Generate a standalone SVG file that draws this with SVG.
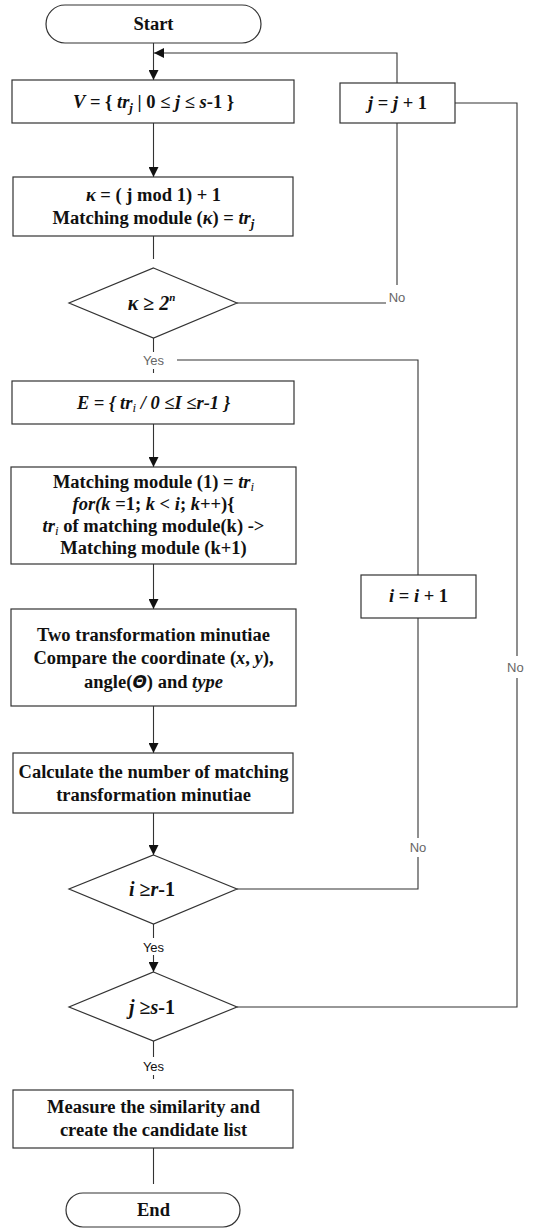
<svg xmlns="http://www.w3.org/2000/svg" width="537" height="1229" viewBox="0 0 537 1229">
<defs>
<marker id="arr" viewBox="0 0 10 10" refX="10" refY="5" markerWidth="10" markerHeight="10" markerUnits="userSpaceOnUse" orient="auto">
<path d="M0,0 L10,5 L0,10 Z" fill="#111"/>
</marker>
<style>
.box{fill:#fff;stroke:#333;stroke-width:1.2}
.ln{fill:none;stroke:#333;stroke-width:1.1}
.t{font-family:"Liberation Serif","Times New Roman",serif;font-size:18.5px;font-weight:bold;fill:#111;text-anchor:middle}
.d{font-size:20px}
.i{font-style:italic}
.lb{font-family:"Liberation Sans",Arial,sans-serif;font-size:13px;fill:#666;text-anchor:middle}
.lbk{font-family:"Liberation Sans",Arial,sans-serif;font-size:13px;fill:#111;text-anchor:middle}
</style>
</defs>

<g id="connectors">
<line class="ln" x1="153.5" y1="43" x2="153.5" y2="80" marker-end="url(#arr)"/>
<polyline class="ln" points="397,83 397,53 154,53" marker-end="url(#arr)"/>
<polyline class="ln" points="455,103 517,103 517,656"/>
<polyline class="ln" points="517,678 517,1007 237,1007"/>
<line class="ln" x1="153.5" y1="123" x2="153.5" y2="177" marker-end="url(#arr)"/>
<line class="ln" x1="153.5" y1="236" x2="153.5" y2="259"/>
<line class="ln" x1="397" y1="123" x2="397" y2="285"/>
<line class="ln" x1="237" y1="303" x2="386" y2="303"/>
<line class="ln" x1="153.5" y1="338" x2="153.5" y2="352"/>
<line class="ln" x1="153.5" y1="369" x2="153.5" y2="373"/>
<polyline class="ln" points="177,360 418,360 418,575"/>
<line class="ln" x1="153.5" y1="424" x2="153.5" y2="467" marker-end="url(#arr)"/>
<line class="ln" x1="153.5" y1="564" x2="153.5" y2="609" marker-end="url(#arr)"/>
<line class="ln" x1="153.5" y1="706" x2="153.5" y2="753" marker-end="url(#arr)"/>
<line class="ln" x1="153.5" y1="813" x2="153.5" y2="855" marker-end="url(#arr)"/>
<line class="ln" x1="418" y1="618" x2="418" y2="838"/>
<polyline class="ln" points="418,857 418,889 237,889"/>
<line class="ln" x1="153.5" y1="924" x2="153.5" y2="938"/>
<line class="ln" x1="153.5" y1="955" x2="153.5" y2="972" marker-end="url(#arr)"/>
<line class="ln" x1="153.5" y1="1041" x2="153.5" y2="1057"/>
<line class="ln" x1="153.5" y1="1075" x2="153.5" y2="1079"/>
<line class="ln" x1="153.5" y1="1148" x2="153.5" y2="1184"/>
<text class="lb" x="397" y="302">No</text>
<text class="lb" x="153.5" y="365">Yes</text>
<text class="lb" x="418" y="852">No</text>
<text class="lbk" x="153.5" y="952">Yes</text>
<text class="lbk" x="153.5" y="1071">Yes</text>
<text class="lb" x="507" y="672" style="text-anchor:start">No</text>
</g>

<g id="start">
<rect class="box" x="46" y="5" width="215" height="38" rx="19" ry="19"/>
<text class="t" x="153.5" y="30">Start</text>
</g>

<g id="setV">
<rect class="box" x="12" y="80" width="282" height="43"/>
<text class="t" x="153.5" y="108"><tspan class="i">V</tspan> = { <tspan class="i">tr</tspan><tspan class="i" font-size="13" dy="4">j</tspan><tspan dy="-4"> | 0 ≤ </tspan><tspan class="i">j</tspan> ≤ <tspan class="i">s</tspan>-1 }</text>
</g>

<g id="jinc">
<rect class="box" x="340" y="83" width="115" height="40"/>
<text class="t" x="397.5" y="109"><tspan class="i">j</tspan> = <tspan class="i">j</tspan> + 1</text>
</g>

<g id="kappa">
<rect class="box" x="13" y="177" width="280" height="59"/>
<text class="t" x="153.5" y="201"><tspan class="i">κ</tspan> = ( j mod 1)  + 1</text>
<text class="t" x="153.5" y="224">Matching module (<tspan class="i">κ</tspan>) = <tspan class="i">tr</tspan><tspan class="i" font-size="13" dy="4">j</tspan></text>
</g>

<g id="dec1">
<polygon class="box" points="153.5,268 237,303 153.5,338 69,303"/>
<text class="t d" x="151.5" y="310"><tspan class="i">κ</tspan> ≥ <tspan class="i">2</tspan><tspan class="i" font-size="11" dy="-9">n</tspan></text>
</g>

<g id="setE">
<rect class="box" x="12" y="381" width="282" height="43"/>
<text class="t i" x="153.5" y="409">E = { tr<tspan font-size="13" font-weight="normal" dy="3">i</tspan><tspan dy="-3"> / 0 ≤I ≤r-1 }</tspan></text>
</g>

<g id="matchloop">
<rect class="box" x="11" y="467" width="285" height="97"/>
<text class="t" x="153.5" y="488">Matching module (1) = <tspan class="i">tr</tspan><tspan class="i" font-size="13" font-weight="normal" dy="3">i</tspan></text>
<text class="t" x="153.5" y="510"><tspan class="i">for(k</tspan> =1; <tspan class="i">k</tspan> &lt; <tspan class="i">i</tspan>; <tspan class="i">k</tspan>++){</text>
<text class="t" x="153.5" y="532"><tspan class="i">tr</tspan><tspan class="i" font-size="13" font-weight="normal" dy="3">i</tspan><tspan dy="-3"> of matching module(k) -&gt;</tspan></text>
<text class="t" x="153.5" y="554">Matching module (k+1)</text>
</g>

<g id="iinc">
<rect class="box" x="361" y="575" width="115" height="43"/>
<text class="t" x="418.5" y="602"><tspan class="i">i</tspan> = <tspan class="i">i</tspan> + 1</text>
</g>

<g id="compare">
<rect class="box" x="11" y="609" width="285" height="97"/>
<text class="t" x="153.5" y="641">Two transformation minutiae</text>
<text class="t" x="153.5" y="664">Compare the coordinate (<tspan class="i">x</tspan>, <tspan class="i">y</tspan>),</text>
<text class="t" x="153.5" y="688">angle(<tspan class="i" font-family="'DejaVu Sans',sans-serif" font-size="17">Θ</tspan>) and <tspan class="i">type</tspan></text>
</g>

<g id="calc">
<rect class="box" x="13" y="753" width="280" height="60"/>
<text class="t" x="153.5" y="778">Calculate the number of matching</text>
<text class="t" x="153.5" y="801">transformation minutiae</text>
</g>

<g id="dec2">
<polygon class="box" points="153.5,855 237,889 153.5,924 69,889"/>
<text class="t d" x="152" y="896"><tspan class="i">i</tspan> ≥<tspan class="i">r</tspan>-1</text>
</g>

<g id="dec3">
<polygon class="box" points="153.5,972 237,1007 153.5,1041 69,1007"/>
<text class="t d" x="152" y="1014"><tspan class="i">j</tspan> ≥<tspan class="i">s</tspan>-1</text>
</g>

<g id="measure">
<rect class="box" x="13" y="1090" width="280" height="58"/>
<text class="t" x="153.5" y="1113">Measure the similarity and</text>
<text class="t" x="153.5" y="1136">create the candidate list</text>
</g>

<g id="end">
<rect class="box" x="66" y="1193" width="174" height="34" rx="17" ry="17"/>
<text class="t" x="153.5" y="1216">End</text>
</g>
</svg>
